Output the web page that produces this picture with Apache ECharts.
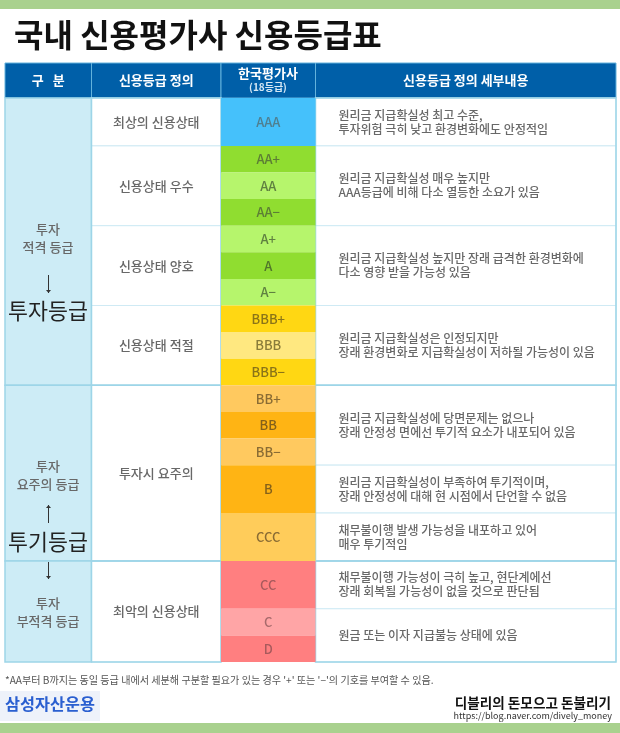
<!DOCTYPE html>
<html>
<head>
<meta charset="utf-8">
<script src="https://cdn.jsdelivr.net/npm/echarts@6/dist/echarts.min.js"></script>
<style>
  html, body { margin: 0; padding: 0; background: #fff; }
  #main { width: 620px; height: 733px; }
</style>
</head>
<body>
<div id="main"></div>
<script>
// table content
const headers = ["구   분", "신용등급 정의", "한국평가사", "신용등급 정의 세부내용"];
const grades = ["AAA", "AA+", "AA", "AA−", "A+", "A", "A−", "BBB+", "BBB", "BBB−", "BB+", "BB", "BB−", "B", "CCC", "CC", "C", "D"];
const gradeSpans = [1.8, 1, 1, 1, 1, 1, 1, 1, 1, 1, 1, 1, 1, 1.8, 1.8, 1.8, 1, 1];

const sectionCounts = [10, 5, 3];

const definitions = ["최상의 신용상태", "신용상태 우수", "신용상태 양호", "신용상태 적절", "투자시 요주의", "최악의 신용상태"];
const definitionCounts = [1, 3, 3, 3, 5, 3];

const details = [
  "원리금 지급확실성 최고 수준,\n투자위험 극히 낮고 환경변화에도 안정적임",
  "원리금 지급확실성 매우 높지만\nAAA등급에 비해 다소 열등한 소요가 있음",
  "원리금 지급확실성 높지만 장래 급격한 환경변화에\n다소 영향 받을 가능성 있음",
  "원리금 지급확실성은 인정되지만\n장래 환경변화로 지급확실성이 저하될 가능성이 있음",
  "원리금 지급확실성에 당면문제는 없으나\n장래 안정성 면에선 투기적 요소가 내포되어 있음",
  "원리금 지급확실성이 부족하여 투기적이며,\n장래 안정성에 대해 현 시점에서 단언할 수 없음",
  "채무불이행 발생 가능성을 내포하고 있어\n매우 투기적임",
  "채무불이행 가능성이 극히 높고, 현단계에선\n장래 회복될 가능성이 없을 것으로 판단됨",
  "원금 또는 이자 지급불능 상태에 있음",
];
const detailCounts = [1, 3, 3, 3, 3, 1, 1, 1, 2];

// styles
const FONT = '"Noto Sans CJK KR", "Noto Sans", sans-serif';
const columnWidths = [86.5, 129.5, 94.5, 300.5];
const headerSpan = 1.316;
const gradeFill = ["#45c1fb", "#90dd30", "#b6f56c", "#90dd30", "#b6f56c", "#90dd30", "#b6f56c", "#ffd713", "#ffe880", "#ffd713", "#ffc95f", "#ffb414", "#ffc95f", "#ffb414", "#ffcc5a", "#ff7f80", "#ffa5a6", "#ff7f80"];
const gradeInk = ["#4f7f90", "#5c7d35", "#5f8040", "#5c7d35", "#5f8040", "#50752a", "#5f8040", "#8a7418", "#8a7c3a", "#8a7418", "#8a6c34", "#85611a", "#8a6c34", "#85611a", "#8a6c34", "#a85a5c", "#a86a6c", "#a85a5c"];
const BLUE = "#005fa8", PALE = "#cdecf6", RULE = "#cfeaf4", STRONG = "#9dd5e8", TEXT = "#686868", ARROW = "#333333";

const sum = (a) => a.reduce((s, v) => s + v, 0);
const colEdges = columnWidths.reduce((e, w) => e.concat(e[e.length - 1] + w), [0]);
const rowEdges = gradeSpans.reduce((e, h) => e.concat(e[e.length - 1] + h), [0]);
const groupEdges = (counts) => {
  let n = 0;
  return [0].concat(counts.map((c) => rowEdges[(n += c)]));
};

// cells for the grid, x in column units and y in row units
const cells = [];
const addColumn = (col, counts, labels, extra) => {
  const edges = groupEdges(counts);
  counts.forEach((c, i) => {
    cells.push(Object.assign({ x0: colEdges[col], x1: colEdges[col + 1], y0: edges[i], y1: edges[i + 1], text: labels[i] }, extra));
  });
};

// headers
headers.forEach((h, i) => {
  cells.push({ x0: colEdges[i], x1: colEdges[i + 1], y0: -headerSpan, y1: 0, text: i === 2 ? "" : h, fill: BLUE, stroke: "#63b2dc", strokeWidth: 1, color: "#ffffff", weight: "bold", size: 13 });
});
// left band
addColumn(0, sectionCounts, ["", "", ""], { fill: PALE, stroke: STRONG, strokeWidth: 1.5 });
addColumn(1, definitionCounts, definitions, { fill: "#ffffff", stroke: RULE, strokeWidth: 1, color: TEXT, weight: 500, size: 13 });
addColumn(3, detailCounts, details, { fill: "#ffffff", stroke: RULE, strokeWidth: 1, color: TEXT, weight: 500, size: 12, align: "left", lineHeight: 14 });
// heavier section rules
addColumn(1, sectionCounts, ["", "", ""], { stroke: STRONG, strokeWidth: 1.5, fill: "none" });
addColumn(3, sectionCounts, ["", "", ""], { stroke: STRONG, strokeWidth: 1.5, fill: "none" });
// grades
grades.forEach((g, i) => {
  cells.push({ x0: colEdges[2], x1: colEdges[3], y0: rowEdges[i], y1: rowEdges[i + 1], text: g, fill: gradeFill[i], color: gradeInk[i], weight: 500, size: 13 });
});

function renderCell(params, api) {
  const c = cells[params.dataIndex];
  const p0 = api.coord([api.value(0), api.value(1)]);
  const p1 = api.coord([api.value(2), api.value(3)]);
  const left = c.align === "left";
  const children = [{
    type: "rect",
    shape: { x: p0[0], y: p0[1], width: p1[0] - p0[0], height: p1[1] - p0[1] },
    style: { fill: c.fill, stroke: c.stroke || null, lineWidth: c.strokeWidth || 0 },
  }];
  if (c.text) {
    children.push({
      type: "text",
      style: {
        x: left ? p0[0] + 23 : (p0[0] + p1[0]) / 2,
        y: (p0[1] + p1[1]) / 2,
        text: c.text,
        fill: c.color,
        font: (c.weight || "normal") + " " + c.size + "px " + FONT,
        align: left ? "left" : "center",
        verticalAlign: "middle",
        lineHeight: c.lineHeight || c.size + 2,
      },
    });
  }
  return { type: "group", children };
}

// free text sits above the table, so it gets a higher z than the series
const note = (x, y, text, size, fill, extra) => ({
  type: "text",
  x,
  y,
  z: 10,
  style: Object.assign({ text, fill, font: "normal " + size + "px " + FONT, align: "center", verticalAlign: "middle", lineHeight: size + 5 }, extra),
});

// thin arrow, head at y2
const arrow = (x, y1, y2) => {
  const d = y2 > y1 ? -3 : 3;
  return [
    { type: "line", z: 10, shape: { x1: x, y1, x2: x, y2 }, style: { stroke: ARROW, lineWidth: 1 } },
    { type: "polygon", z: 10, shape: { points: [[x - 2.5, y2 + d], [x + 2.5, y2 + d], [x, y2]] }, style: { fill: ARROW } },
  ];
};

const chart = echarts.init(document.getElementById("main"), null, { renderer: "canvas" });
chart.setOption({
  animation: false,
  backgroundColor: "#ffffff",
  title: {
    text: "국내 신용평가사 신용등급표",
    left: 9,
    top: 14,
    textStyle: { fontFamily: FONT, fontWeight: "bold", fontSize: 32, color: "#111111" },
  },
  grid: { left: 5, top: 63, width: 611, height: 599 },
  xAxis: { type: "value", min: 0, max: sum(columnWidths), show: false },
  yAxis: { type: "value", inverse: true, min: -headerSpan, max: sum(gradeSpans), show: false },
  series: [{
    type: "custom",
    silent: true,
    clip: false,
    renderItem: renderCell,
    data: cells.map((c) => [c.x0, c.y0, c.x1, c.y1]),
  }],
  graphic: [
    { type: "rect", shape: { x: 0, y: 0, width: 620, height: 9 }, style: { fill: "#a9d18e" } },
    { type: "rect", shape: { x: 0, y: 723, width: 620, height: 10 }, style: { fill: "#a9d18e" } },

    note(268, 73, "한국평가사", 13, "#ffffff", { font: "bold 13px " + FONT }),
    note(268, 87, "(18등급)", 10, "#d5e8f5", { font: "bold 10px " + FONT }),

    note(48, 238, "투자\n적격 등급", 13, TEXT, { font: "500 13px " + FONT }),
    ...arrow(48.5, 275, 293),
    note(48, 311, "투자등급", 21.7, "#222222"),
    note(48, 475, "투자\n요주의 등급", 13, TEXT, { font: "500 13px " + FONT }),
    ...arrow(48.5, 523, 505),
    note(48, 542, "투기등급", 21.7, "#222222"),
    ...arrow(48.5, 562, 579),
    note(48, 612, "투자\n부적격 등급", 13, TEXT, { font: "500 13px " + FONT }),

    note(5, 680, "*AA부터 B까지는 동일 등급 내에서 세분해 구분할 필요가 있는 경우 '+' 또는 '−'의 기호를 부여할 수 있음.", 10.1, "#555555", { align: "left" }),

    { type: "rect", shape: { x: 0, y: 691, width: 100, height: 30 }, style: { fill: "#eef2fa" } },
    note(50, 704, "삼성자산운용", 16.3, "#2a5fd0", { font: "bold 16.3px " + FONT }),
    note(611, 703, "디블리의 돈모으고 돈불리기", 13.6, "#111111", { font: "bold 13.6px " + FONT, align: "right" }),
    note(612, 716, "https://blog.naver.com/dively_money", 9, "#333333", { align: "right" }),
  ],
});
</script>
</body>
</html>
